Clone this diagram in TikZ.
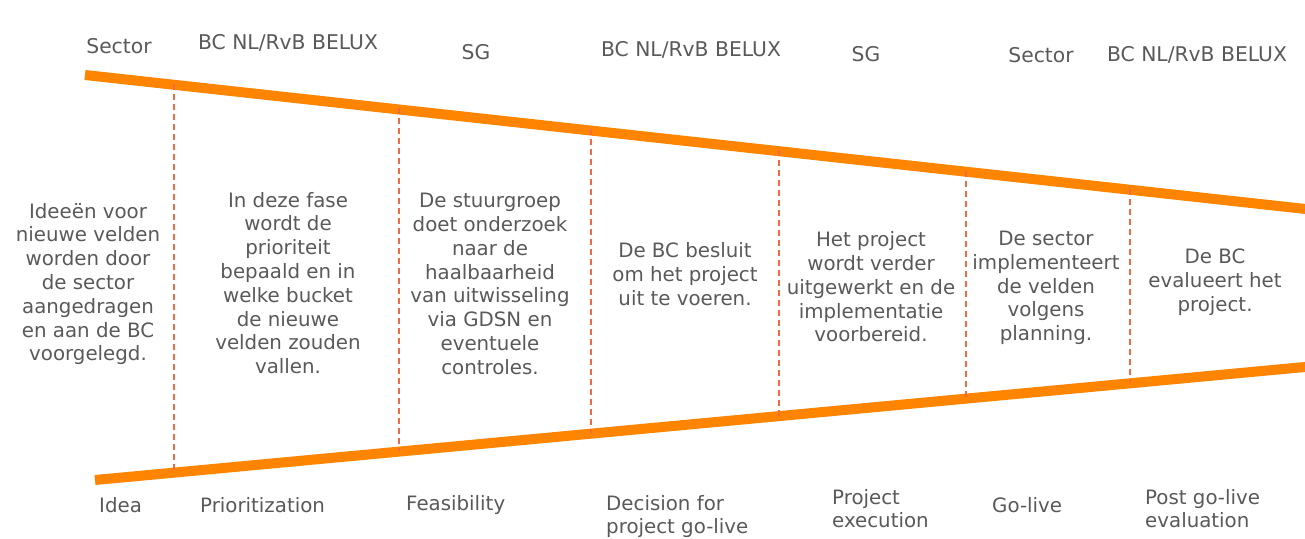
\documentclass[tikz,border=0pt]{standalone}
\usepackage{fontspec}
\setmainfont{DejaVu Sans}
\begin{document}
\begin{tikzpicture}[x=1pt,y=-1pt,
  funnel/.style={draw=funnelorange,line width=10pt},
  divider/.style={draw=dividerred,line width=1.2pt,dash pattern=on 6pt off 4pt},
  actor/.style={text=textgray,font=\fontsize{20.3}{24}\selectfont,inner sep=0pt},
  desc/.style={text=textgray,font=\fontsize{19.8}{23.8}\selectfont,align=center,inner sep=0pt},
  phase/.style={text=textgray,font=\fontsize{19.8}{23}\selectfont,align=left,inner sep=0pt,anchor=west}]
\definecolor{funnelorange}{HTML}{FF8500}
\definecolor{dividerred}{HTML}{F26A45}
\definecolor{textgray}{HTML}{595959}
\useasboundingbox (0,0) rectangle (1305,538);
\clip (0,0) rectangle (1305,538);
% funnel edges
\coordinate (tl) at (85,75);
\coordinate (tr) at (1310,209.5);
\coordinate (bl) at (95,480);
\coordinate (br) at (1310,366.5);
\draw[funnel] (tl) -- (tr);
\draw[funnel] (bl) -- (br);
% dividers
\coordinate (t1) at (174,84); \coordinate (b1) at (174,472);
\coordinate (t2) at (399,108); \coordinate (b2) at (399,451);
\coordinate (t3) at (591,129); \coordinate (b3) at (591,433);
\coordinate (t4) at (779,150); \coordinate (b4) at (779,416);
\coordinate (t5) at (966,171); \coordinate (b5) at (966,399);
\coordinate (t6) at (1130,189); \coordinate (b6) at (1130,383);
\foreach \i in {1,...,6} \draw[divider] (t\i) -- (b\i);
% actors
\node[actor] (a1) at (119,46) {Sector};
\node[actor] (a2) at (288,43) {BC NL/RvB BELUX};
\node[actor] (a3) at (476,52) {SG};
\node[actor] (a4) at (691,50) {BC NL/RvB BELUX};
\node[actor] (a5) at (866,54) {SG};
\node[actor] (a6) at (1041,55) {Sector};
\node[actor] (a7) at (1197,55) {BC NL/RvB BELUX};
% descriptions
\node[desc] (d1) at (88,284) {Ideeën voor\\nieuwe velden\\worden door\\de sector\\aangedragen\\en aan de BC\\voorgelegd.};
\node[desc] (d2) at (288,283) {In deze fase\\wordt de\\prioriteit\\bepaald en in\\welke bucket\\de nieuwe\\velden zouden\\vallen.};
\node[desc] (d3) at (490,284) {De stuurgroep\\doet onderzoek\\naar de\\haalbaarheid\\van uitwisseling\\via GDSN en\\eventuele\\controles.};
\node[desc] (d4) at (685,274) {De BC besluit\\om het project\\uit te voeren.};
\node[desc] (d5) at (871,287) {Het project\\wordt verder\\uitgewerkt en de\\implementatie\\voorbereid.};
\node[desc] (d6) at (1046,288) {De sector\\implementeert\\de velden\\volgens\\planning.};
\node[desc] (d7) at (1215,282) {De BC\\evalueert het\\project.};
% phases
\node[phase] (p1) at (99,505) {Idea};
\node[phase] (p2) at (200,505) {Prioritization};
\node[phase] (p3) at (406,505) {Feasibility};
\node[phase] (p4) at (606,517) {Decision for\\project go-live};
\node[phase] (p5) at (832,509) {Project\\execution};
\node[phase] (p6) at (992,505) {Go-live};
\node[phase] (p7) at (1145,509) {Post go-live\\evaluation};
\end{tikzpicture}
\end{document}
